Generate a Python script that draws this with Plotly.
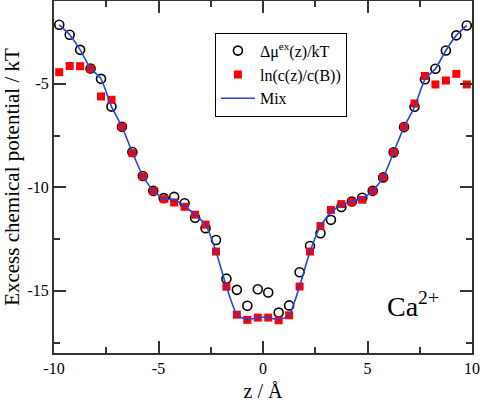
import plotly.graph_objects as go

z = [-9.75 + 0.5 * k for k in range(40)]

mu_ex = [-2.15, -2.63, -3.36, -4.26, -4.76, -6.10, -7.07, -8.29, -9.45, -10.17,
         -10.52, -10.46, -10.77, -11.47, -11.97, -12.54, -14.41, -14.95, -15.72, -14.92,
         -15.08, -16.05, -15.70, -14.10, -12.83, -12.22, -11.57, -10.95, -10.68, -10.50,
         -10.17, -9.52, -8.31, -7.09, -6.11, -4.78, -4.27, -3.39, -2.66, -2.18]

ln_ratio = [-4.44, -4.14, -4.15, -4.27, -5.61, -5.77, -7.07, -8.35, -9.47, -10.17,
            -10.57, -10.73, -10.94, -11.32, -11.80, -13.10, -14.80, -16.15, -16.40, -16.29,
            -16.29, -16.42, -16.18, -14.79, -13.10, -11.87, -11.09, -10.81, -10.70, -10.60,
            -10.17, -9.52, -8.31, -7.08, -5.95, -4.62, -5.03, -4.84, -4.52, -5.03]

mix = [-2.15, -2.63, -3.36, -4.26, -4.76, -6.10, -7.07, -8.31, -9.46, -10.17,
       -10.55, -10.60, -10.90, -11.33, -11.79, -13.10, -14.80, -16.15, -16.40, -16.29,
       -16.29, -16.40, -16.18, -14.78, -13.10, -11.87, -11.20, -10.85, -10.68, -10.55,
       -10.17, -9.52, -8.31, -7.08, -6.12, -4.78, -4.27, -3.39, -2.66, -2.18]

x_ticks = [-10, -5, 0, 5, 10]
y_ticks = [-15, -10, -5]

FONT = "Liberation Serif"

fig = go.Figure()
fig.add_trace(go.Scatter(
    x=z, y=mu_ex, mode="markers", name="Δμ<sup>ex</sup>(z)/kT",
    marker=dict(symbol="circle-open", size=9, color="black", line=dict(width=1.6, color="black")),
))
fig.add_trace(go.Scatter(
    x=z, y=ln_ratio, mode="markers", name="ln(c(z)/c(B))",
    marker=dict(symbol="square", size=8, color="#ff0000", line=dict(width=0)),
))
fig.add_trace(go.Scatter(
    x=z, y=mix, mode="lines", name="Mix",
    line=dict(color="#2645d8", width=1.6, shape="spline", smoothing=0.5),
))

axis_common = dict(
    showgrid=False, zeroline=False, showline=True, linecolor="#333333", linewidth=2,
    mirror="ticks", ticks="inside", ticklen=12, tickwidth=1.5, tickcolor="#333333",
    tickfont=dict(family=FONT, size=16, color="black"), automargin=False,
)

fig.update_layout(
    width=480, height=402,
    margin=dict(l=54, r=8, t=1, b=49),
    paper_bgcolor="white", plot_bgcolor="white",
    font=dict(family=FONT, color="black"),
    showlegend=True,
    legend=dict(
        x=0.385, y=0.91, xanchor="left", yanchor="top",
        bgcolor="white", bordercolor="black", borderwidth=1,
        font=dict(family=FONT, size=16, color="black"),
        tracegroupgap=0, itemwidth=34,
    ),
    xaxis=dict(
        range=[-10, 10], tickvals=x_ticks, ticktext=[str(v) for v in x_ticks],
        minor=dict(tickvals=[-7.5, -2.5, 2.5, 7.5], ticks="inside", ticklen=6,
                   tickwidth=1.5, tickcolor="#333333"),
        title=dict(text="z / Å", font=dict(family=FONT, size=20), standoff=9),
        **axis_common,
    ),
    yaxis=dict(
        range=[-18, -1], tickvals=y_ticks, ticktext=[str(v) for v in y_ticks],
        minor=dict(tickvals=[-17.5, -12.5, -7.5], ticks="inside", ticklen=6,
                   tickwidth=1.5, tickcolor="#333333"),
        title=dict(text="Excess chemical potential / kT", font=dict(family=FONT, size=21), standoff=6),
        **axis_common,
    ),
)

fig.add_annotation(
    x=5.85, y=-15.65, xref="x", yref="y", text="Ca<sup>2+</sup>",
    showarrow=False, xanchor="left", yanchor="middle",
    font=dict(family=FONT, size=28, color="black"),
)

fig.write_html(
    "out.html",
    config={"displayModeBar": False},
    post_script="document.body.style.margin='0';document.body.style.padding='0';",
)
